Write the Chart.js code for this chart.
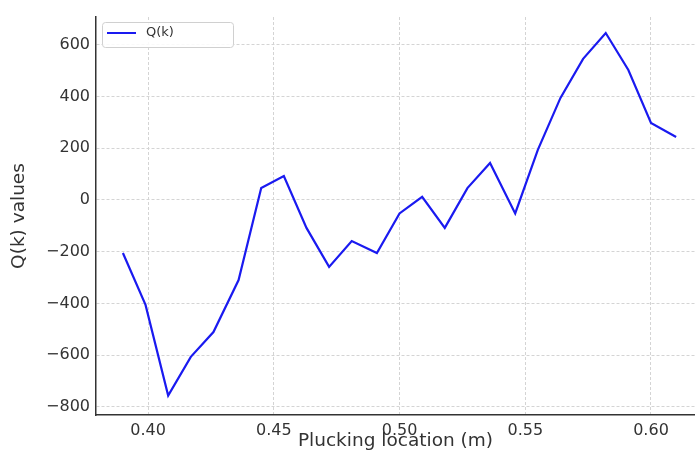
<!DOCTYPE html>
<html lang="en">
  <head>
    <meta charset="UTF-8" />
    <title>Q(k) vs plucking location</title>
    <script src="https://cdn.jsdelivr.net/npm/chart.js"></script>
    <style>
      html, body { margin: 0; padding: 0; background: #fff; }
      #wrap { width: 695px; height: 452px; position: relative; }
    </style>
  </head>
  <body>
    <div id="wrap"><canvas id="qChart"></canvas></div>

    <script>
      // plucking locations (m)
      const locations = [
        0.39, 0.399, 0.408, 0.417, 0.426, 0.436, 0.445, 0.454, 0.463, 0.472,
        0.481, 0.491, 0.5, 0.509, 0.518, 0.527, 0.536, 0.546, 0.555, 0.564,
        0.573, 0.582, 0.591, 0.6, 0.61,
      ];
      // Q(k) values
      const qValues = [
        -205, -406, -757, -607, -511, -310, 46, 93, -108, -259,
        -159, -205, -52, 12, -108, 46, 143, -52, 194, 395,
        546, 646, 503, 298, 244,
      ];
      const xTicks = [0.4, 0.45, 0.5, 0.55, 0.6];
      const yTicks = [-800, -600, -400, -200, 0, 200, 400, 600];

      const FONT = "'DejaVu Sans', sans-serif";
      const textColor = "#333";

      // matplotlib-style legend box inside the plot
      const boxLegend = {
        id: "boxLegend",
        afterDraw(chart) {
          const c = chart.ctx;
          const area = chart.chartArea;
          const ds = chart.data.datasets[0];
          const x = area.left + 6, y = area.top + 5, w = 131, h = 25;
          c.save();
          c.fillStyle = "rgba(255,255,255,0.85)";
          c.strokeStyle = "#d0d0d0";
          c.lineWidth = 1;
          c.beginPath();
          c.roundRect(x + 0.5, y + 0.5, w, h, 3);
          c.fill();
          c.stroke();
          c.strokeStyle = ds.borderColor;
          c.lineWidth = 2;
          c.beginPath();
          c.moveTo(x + 5, y + 11);
          c.lineTo(x + 34, y + 11);
          c.stroke();
          c.fillStyle = textColor;
          c.font = "13px " + FONT;
          c.textBaseline = "middle";
          c.fillText(ds.label, x + 44, y + 11);
          c.restore();
        },
      };

      new Chart(document.getElementById("qChart"), {
        type: "line",
        data: {
          datasets: [
            {
              label: "Q(k)",
              data: locations.map((x, i) => ({ x: x, y: qValues[i] })),
              borderColor: "#1a1af0",
              borderWidth: 2.2,
              pointRadius: 0,
              tension: 0,
            },
          ],
        },
        options: {
          responsive: true,
          maintainAspectRatio: false,
          animation: false,
          layout: { padding: { left: 0, right: 0, top: 17, bottom: 0 } },
          plugins: { legend: { display: false }, tooltip: { enabled: false } },
          scales: {
            x: {
              type: "linear",
              min: 0.3793,
              max: 0.6175,
              afterBuildTicks: (s) => { s.ticks = xTicks.map((v) => ({ value: v })); },
              afterFit: (s) => { s.height = 37; },
              border: { color: "#333", width: 1.5, dash: [3, 2] },
              grid: { color: "#d4d4d4", drawTicks: false },
              ticks: {
                padding: 6,
                color: textColor,
                font: { family: FONT, size: 16 },
                callback: (v) => v.toFixed(2),
              },
              title: {
                display: true,
                text: "Plucking location (m)",
                color: textColor,
                font: { family: FONT, size: 18.5 },
                padding: { top: 0, bottom: 0 },
              },
            },
            y: {
              min: -832,
              max: 708,
              afterBuildTicks: (s) => { s.ticks = yTicks.map((v) => ({ value: v })); },
              afterFit: (s) => { s.width = 96; },
              border: { color: "#333", width: 1.5, dash: [3, 2] },
              grid: { color: "#d4d4d4", drawTicks: false },
              ticks: {
                padding: 6,
                color: textColor,
                font: { family: FONT, size: 16 },
                callback: (v) => (v < 0 ? "\u2212" + Math.abs(v) : String(v)),
              },
              title: {
                display: true,
                text: "Q(k) values",
                color: textColor,
                font: { family: FONT, size: 18.5 },
                padding: { top: 8, bottom: 0 },
              },
            },
          },
        },
        plugins: [boxLegend],
      });
    </script>
  </body>
</html>
